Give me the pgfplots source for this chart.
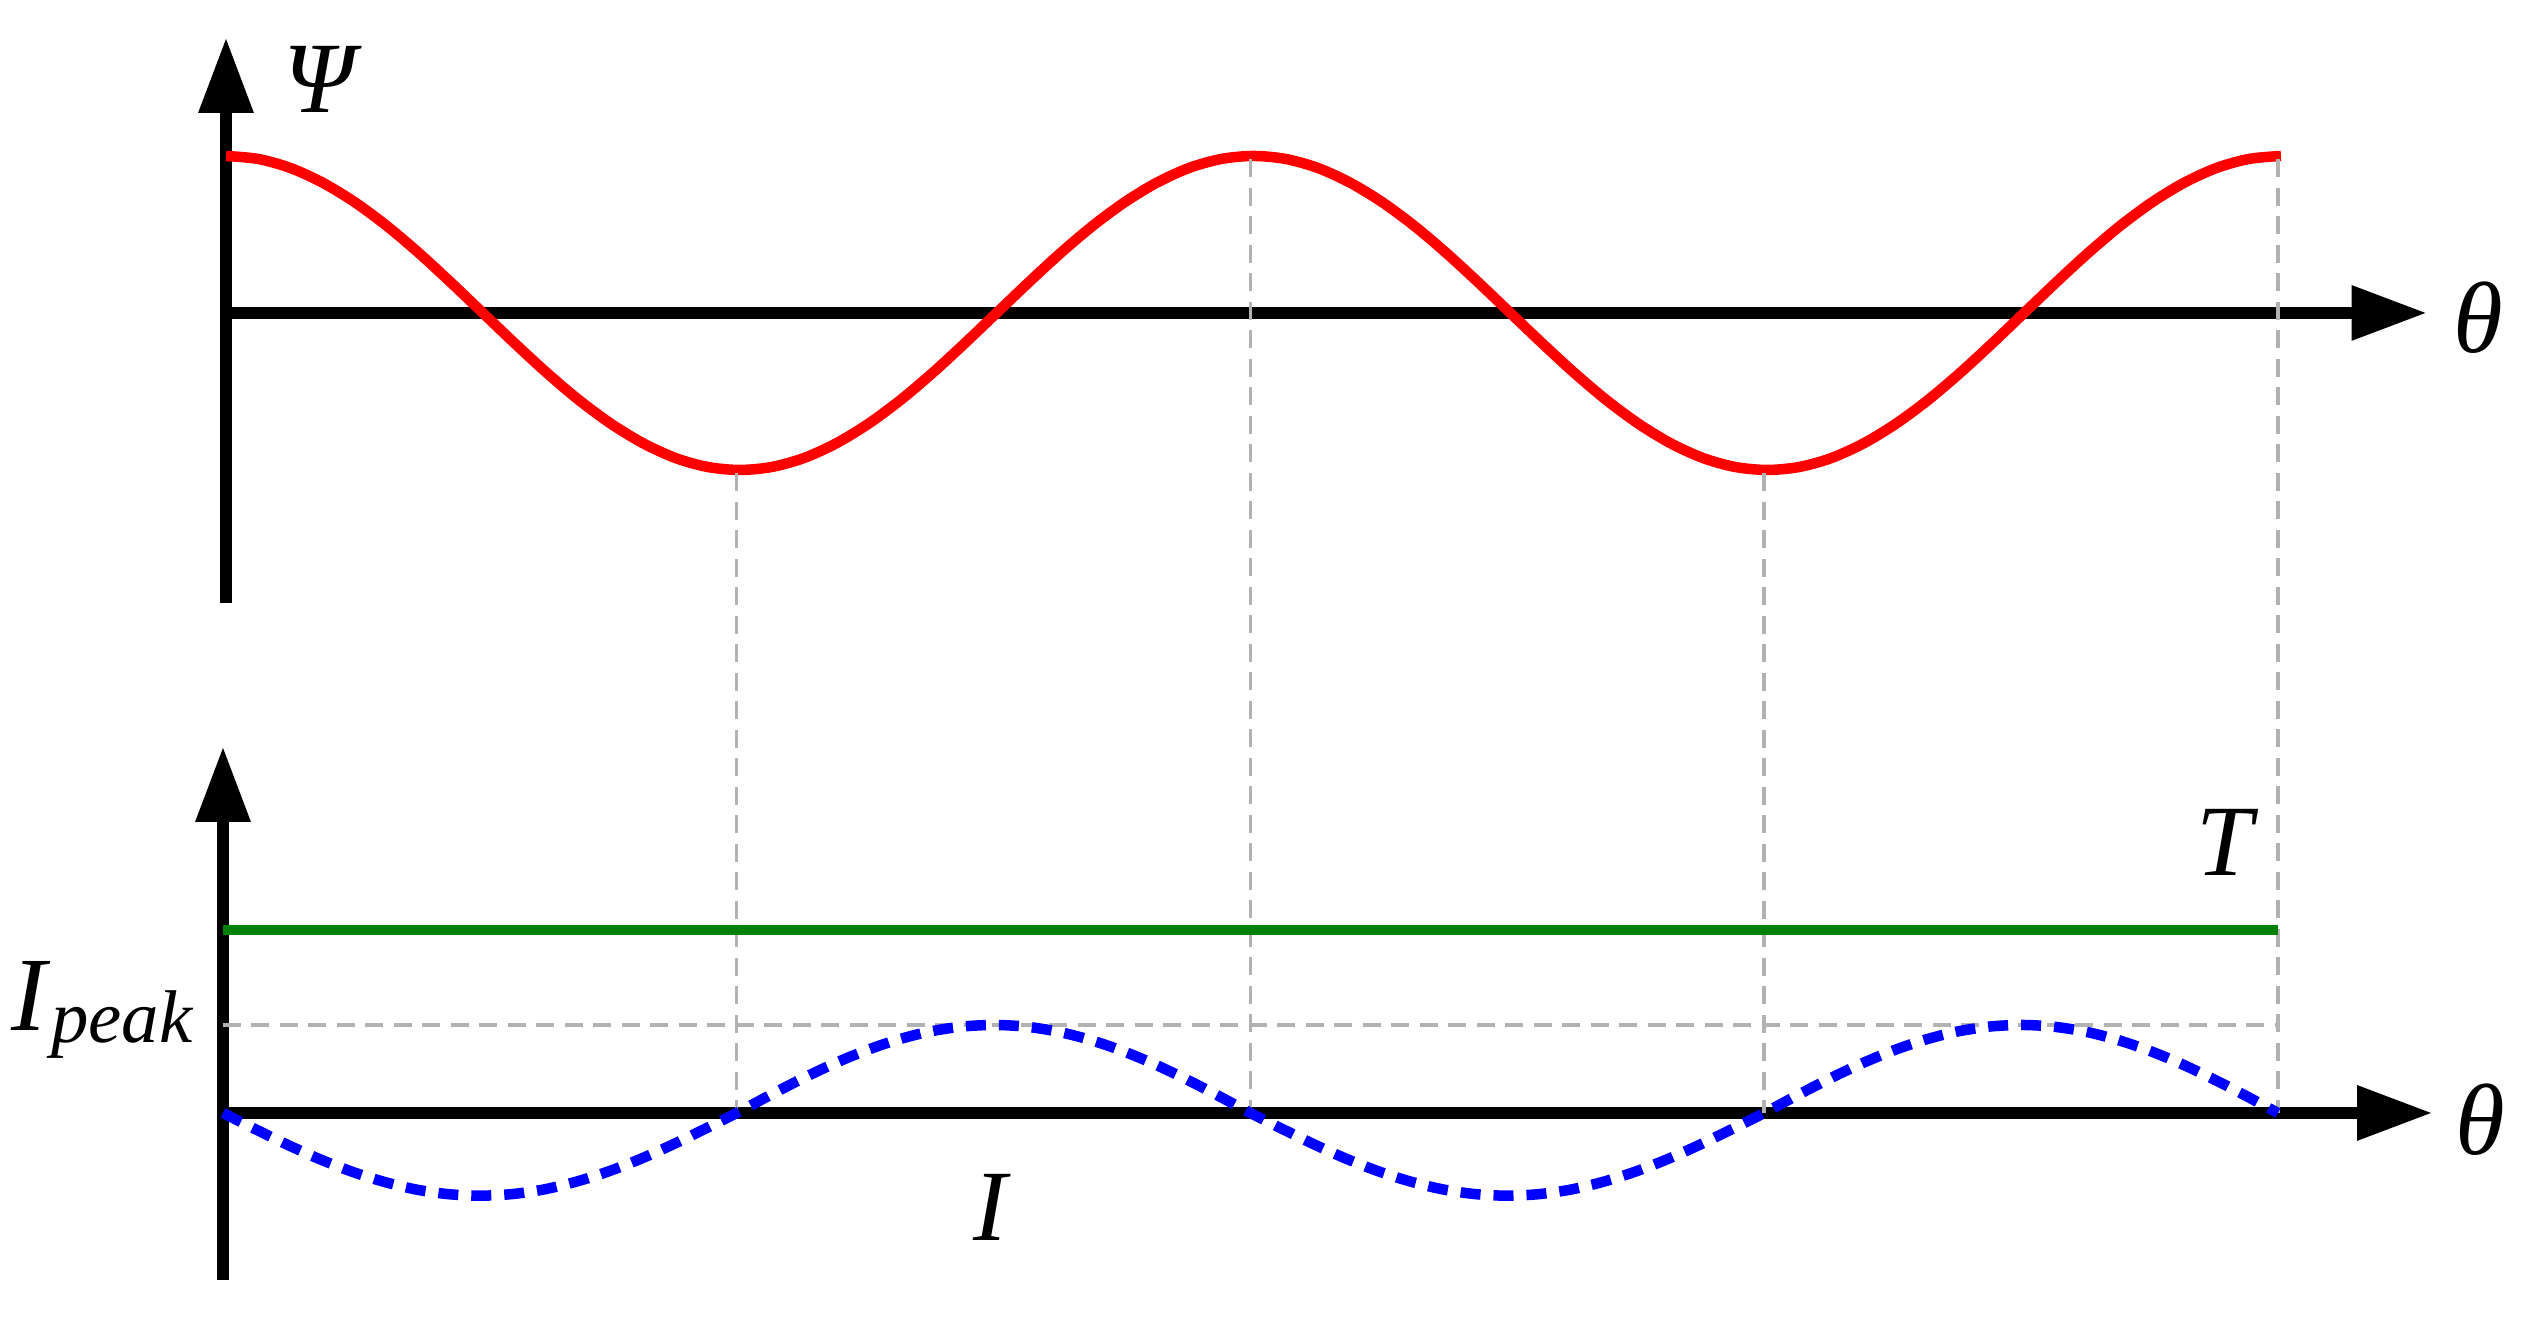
\documentclass[border=0pt]{standalone}
\usepackage{fontspec}
\setmainfont{Liberation Serif}
\usepackage{pgfplots}
\pgfplotsset{compat=1.18}
\usetikzlibrary{arrows.meta}

% flux linkage (one value every 11.25 deg)
\pgfplotstableread{
th psi
0 1
11.25 0.981
22.5 0.924
33.75 0.831
45 0.707
56.25 0.556
67.5 0.383
78.75 0.195
90 0
101.25 -0.195
112.5 -0.383
123.75 -0.556
135 -0.707
146.25 -0.831
157.5 -0.924
168.75 -0.981
180 -1
191.25 -0.981
202.5 -0.924
213.75 -0.831
225 -0.707
236.25 -0.556
247.5 -0.383
258.75 -0.195
270 0
281.25 0.195
292.5 0.383
303.75 0.556
315 0.707
326.25 0.831
337.5 0.924
348.75 0.981
360 1
371.25 0.981
382.5 0.924
393.75 0.831
405 0.707
416.25 0.556
427.5 0.383
438.75 0.195
450 0
461.25 -0.195
472.5 -0.383
483.75 -0.556
495 -0.707
506.25 -0.831
517.5 -0.924
528.75 -0.981
540 -1
551.25 -0.981
562.5 -0.924
573.75 -0.831
585 -0.707
596.25 -0.556
607.5 -0.383
618.75 -0.195
630 0
641.25 0.195
652.5 0.383
663.75 0.556
675 0.707
686.25 0.831
697.5 0.924
708.75 0.981
720 1
}\psidata

% phase current
\pgfplotstableread{
th cur
0 0
11.25 -0.183
22.5 -0.360
33.75 -0.523
45 -0.665
56.25 -0.781
67.5 -0.869
78.75 -0.922
90 -0.94
101.25 -0.922
112.5 -0.869
123.75 -0.781
135 -0.665
146.25 -0.523
157.5 -0.360
168.75 -0.183
180 0
191.25 0.195
202.5 0.383
213.75 0.556
225 0.707
236.25 0.831
247.5 0.924
258.75 0.981
270 1
281.25 0.981
292.5 0.924
303.75 0.831
315 0.707
326.25 0.556
337.5 0.383
348.75 0.195
360 0
371.25 -0.183
382.5 -0.360
393.75 -0.523
405 -0.665
416.25 -0.781
427.5 -0.869
438.75 -0.922
450 -0.94
461.25 -0.922
472.5 -0.869
483.75 -0.781
495 -0.665
506.25 -0.523
517.5 -0.360
528.75 -0.183
540 0
551.25 0.195
562.5 0.383
573.75 0.556
585 0.707
596.25 0.831
607.5 0.924
618.75 0.981
630 1
641.25 0.981
652.5 0.924
663.75 0.831
675 0.707
686.25 0.556
697.5 0.383
708.75 0.195
720 0
}\curdata

\pgfplotsset{
  sketch/.style={
    axis lines=middle,
    xtick=\empty, ytick=\empty,
    clip=false,
    anchor=origin,
    axis line style={line width=0.45mm, -{Triangle[length=3.0mm,width=2.1mm]}},
  },
  guide/.style={gray!60, line width=0.14mm, dash pattern=on 0.72mm off 0.42mm},
}

\begin{document}
\begin{tikzpicture}[font=\fontsize{11.5}{13}\selectfont]
\path[use as bounding box] (0,0) rectangle (101.56mm,52.96mm);

\begin{axis}[sketch,
  at={(9.04mm,40.44mm)},
  x=0.11417mm, y=6.28mm,
  xmin=0, xmax=771, ymin=-1.847, ymax=1.752]
  \addplot[red, line width=0.42mm, smooth] table[x=th, y=psi] {\psidata};
  \node[inner sep=0] at (axis cs:34,1.49) {\textit{Ψ}};
  \node[inner sep=0] at (axis cs:789,-0.03) {\textit{θ}};
\end{axis}

\begin{axis}[sketch,
  at={(8.92mm,8.44mm)},
  x=0.11417mm, y=3.52mm,
  xmin=0, xmax=774, ymin=-1.90, ymax=4.16]
  % guide lines from the flux extrema down to the current axis
  \addplot[guide] coordinates {(180,7.27) (180,0)};
  \addplot[guide] coordinates {(360,10.84) (360,0)};
  \addplot[guide] coordinates {(540,7.27) (540,0)};
  \addplot[guide] coordinates {(720,10.84) (720,0)};
  \addplot[guide] coordinates {(0,1) (720,1)};
  \addplot[green!50!black, line width=0.38mm] coordinates {(0,2.08) (720,2.08)};
  \addplot[blue, line width=0.42mm, smooth, dash pattern=on 0.8mm off 0.52mm] table[x=th, y=cur] {\curdata};
  \node[inner sep=0] at (axis cs:702.5,3.07) {\textit{T}};
  \node[inner sep=0] at (axis cs:791,-0.08) {\textit{θ}};
  \node[inner sep=0] at (axis cs:269.5,-1.07) {\textit{I}};
  \node[inner sep=0, anchor=base east] at (axis cs:-9.8,0.94)
    {{\fontsize{12}{14}\selectfont\textit{I}}\raisebox{-0.5mm}{\fontsize{8.5}{10}\selectfont\textit{peak}}};
\end{axis}
\end{tikzpicture}
\end{document}
